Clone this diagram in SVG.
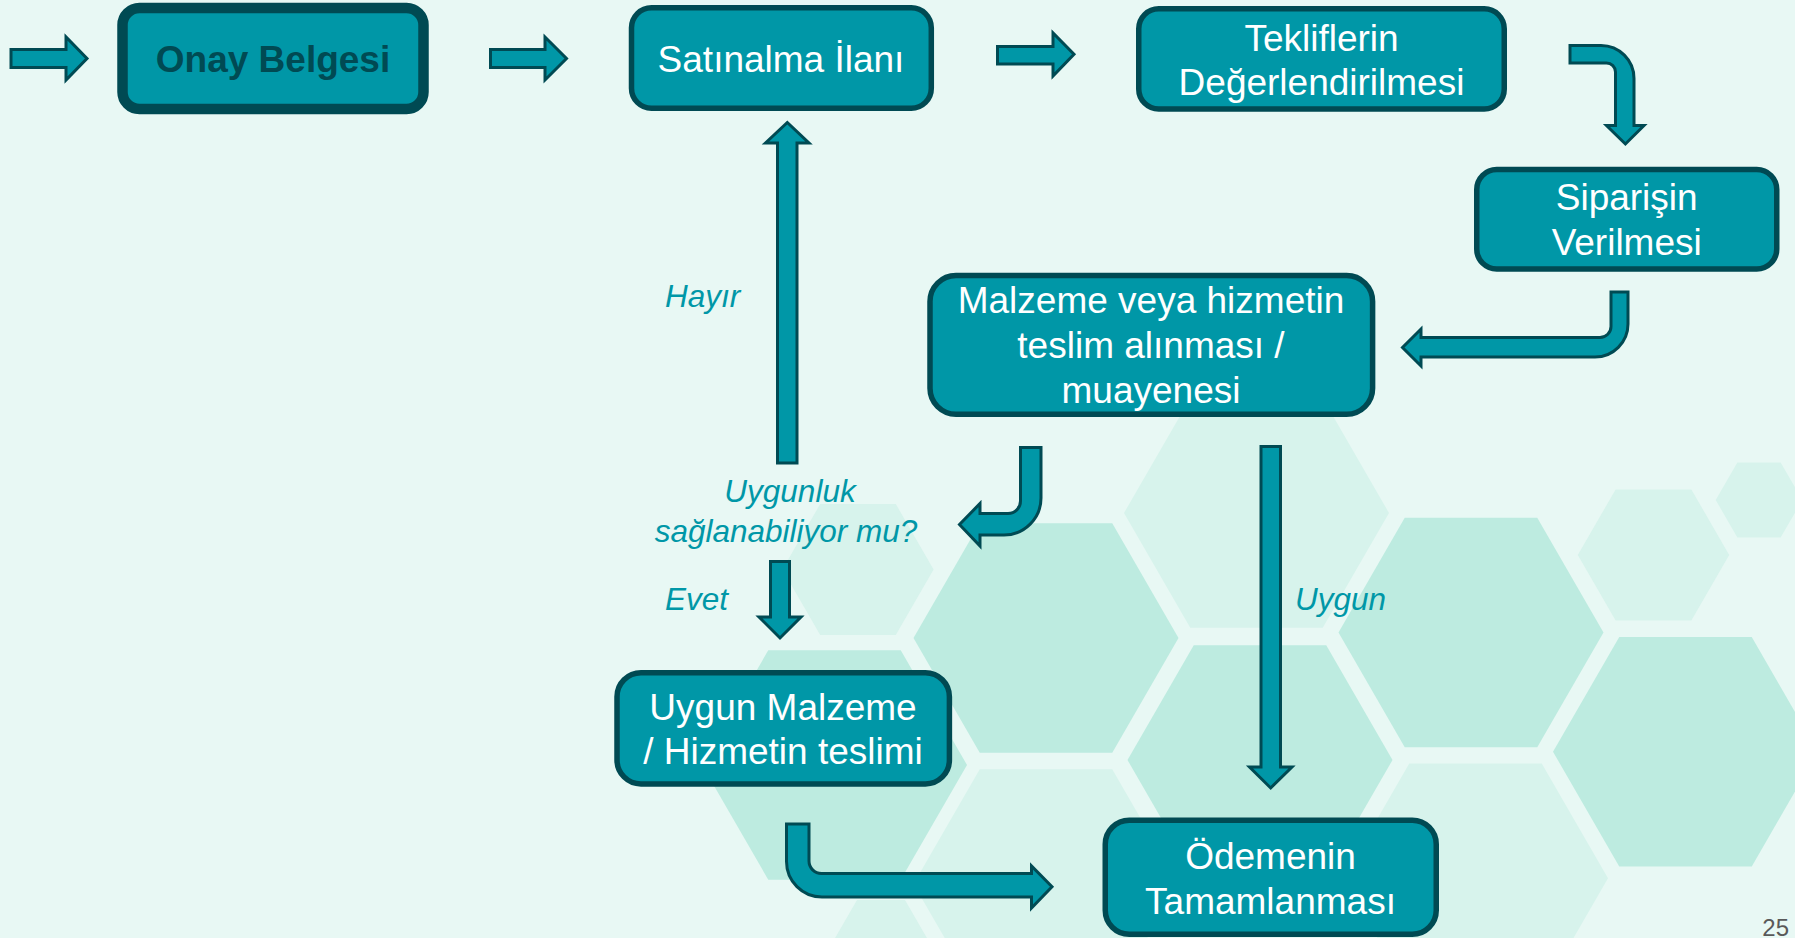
<svg xmlns="http://www.w3.org/2000/svg" width="1795" height="938" viewBox="0 0 1795 938">
<style>
.hl{fill:#D7F3EC}
.hd{fill:#BDEBE0}
.box{fill:#0097A7;stroke:#004A53;stroke-width:5.5}
.arr{fill:#0097A7;stroke:#004A53;stroke-width:3;stroke-linejoin:miter}
.t{font-family:"Liberation Sans",Arial,sans-serif;font-size:37px;fill:#FFFFFF;text-anchor:middle}
.lbl{font-family:"Liberation Sans",Arial,sans-serif;font-size:31.5px;font-style:italic;fill:#0097A7}
</style>
<rect x="0" y="0" width="1795" height="938" fill="#E8F8F4"/>
<g id="background">
<polygon class="hl" points="1124,513 1190.25,398.3 1322.75,398.3 1389,513 1322.75,627.7 1190.25,627.7"/>
<polygon class="hd" points="1338.5,632.5 1404.75,517.8 1537.25,517.8 1603.5,632.5 1537.25,747.2 1404.75,747.2"/>
<polygon class="hd" points="1127.5,760 1193.75,645.3 1326.25,645.3 1392.5,760 1326.25,874.7 1193.75,874.7"/>
<polygon class="hl" points="1343,878.3 1409.25,763.6 1541.75,763.6 1608,878.3 1541.75,993 1409.25,993"/>
<polygon class="hd" points="1553,751.7 1619.25,637 1751.75,637 1818,751.7 1751.75,866.4 1619.25,866.4"/>
<polygon class="hl" points="1577.8,555 1615.65,489.4 1691.35,489.4 1729.2,555 1691.35,620.6 1615.65,620.6"/>
<polygon class="hl" points="1715.7,500 1737.35,462.5 1780.65,462.5 1802.3,500 1780.65,537.5 1737.35,537.5"/>
<polygon class="hd" points="913.5,638 979.75,523.3 1112.25,523.3 1178.5,638 1112.25,752.7 979.75,752.7"/>
<polygon class="hl" points="782.4,569.5 820.2,504 895.8,504 933.6,569.5 895.8,635 820.2,635"/>
<polygon class="hd" points="702,765 768.25,650.3 900.75,650.3 967,765 900.75,879.7 768.25,879.7"/>
<polygon class="hl" points="913.5,884 979.75,769.3 1112.25,769.3 1178.5,884 1112.25,998.7 979.75,998.7"/>
<polygon class="hl" points="833,941.6 857,900 905,900 929,941.6 905,983.2 857,983.2"/>
</g>
<g id="connectors">
<path class="arr" d="M11,49.5 L66,49.5 L66,37 L87,58.5 L66,80 L66,67.5 L11,67.5 Z"/>
<path class="arr" d="M490.5,49.5 L545,49.5 L545,37 L566.5,58.5 L545,80 L545,67.5 L490.5,67.5 Z"/>
<path class="arr" d="M997.5,46.5 L1053,46.5 L1053,33 L1074,54.3 L1053,76 L1053,64 L997.5,64 Z"/>
<path class="arr" d="M1570,45.5 L1601,45.5 A33,33 0 0 1 1634,78.5 L1634,125.5 L1644,125.5 L1625.4,144 L1606.5,125.5 L1615.5,125.5 L1615.5,72 A9,9 0 0 0 1606.5,63 L1570,63 Z"/>
<path class="arr" d="M1611,292 L1628,292 L1628,324 A33,33 0 0 1 1595,357 L1421,357 L1421,366 L1402.5,347.5 L1421,329 L1421,337.5 L1600,337.5 A11,11 0 0 0 1611,326.5 Z"/>
<path class="arr" d="M1020.5,447.5 L1041,447.5 L1041,498 A37,37 0 0 1 1004,535 L980,535 L980,546 L959.5,524.5 L980,503.5 L980,513.5 L1008,513.5 A12.5,12.5 0 0 0 1020.5,501 Z"/>
<path class="arr" d="M777.5,463 L777.5,143 L765.5,143 L787.3,122.5 L809,143 L797,143 L797,463 Z"/>
<path class="arr" d="M770.5,561.5 L789.5,561.5 L789.5,617 L801,617 L780,638 L759,617 L770.5,617 Z"/>
<path class="arr" d="M1261,446.5 L1280.5,446.5 L1280.5,767 L1292,767 L1270.7,788 L1249.5,767 L1261,767 Z"/>
<path class="arr" d="M786.5,824 L809,824 L809,861 A12.5,12.5 0 0 0 821.5,873.5 L1031.5,873.5 L1031.5,866 L1052,886.7 L1031.5,908 L1031.5,897 L822,897 A35.5,35.5 0 0 1 786.5,861.5 Z"/>
<g id="labels">
<text class="lbl" x="665" y="307">Hayır</text>
<text class="lbl" x="790" y="502" text-anchor="middle">Uygunluk</text>
<text class="lbl" x="786" y="542" text-anchor="middle">sağlanabiliyor mu?</text>
<text class="lbl" x="665" y="610">Evet</text>
<text class="lbl" x="1295" y="610">Uygun</text>
</g>
</g>
<g id="onay">
<rect x="122.5" y="8" width="301" height="101" rx="17" fill="#0097A7" stroke="#004A53" stroke-width="10.5"/>
<text x="273" y="72" font-family="'Liberation Sans',Arial,sans-serif" font-size="37" font-weight="bold" fill="#004A53" text-anchor="middle">Onay Belgesi</text>
</g>
<g id="satinalma">
<rect class="box" x="631.5" y="7.75" width="299.8" height="100.5" rx="20"/>
<text class="t" x="781" y="72">Satınalma İlanı</text>
</g>
<g id="teklifler">
<rect class="box" x="1138.75" y="8.75" width="365.5" height="100.2" rx="20"/>
<text class="t" x="1321.5" y="51">Tekliflerin</text>
<text class="t" x="1321.5" y="95">Değerlendirilmesi</text>
</g>
<g id="siparis">
<rect class="box" x="1476.75" y="169.5" width="300" height="99.5" rx="20"/>
<text class="t" x="1626.7" y="210">Siparişin</text>
<text class="t" x="1626.7" y="255">Verilmesi</text>
</g>
<g id="malzeme">
<rect class="box" x="930" y="275.5" width="442.6" height="138.7" rx="26"/>
<text class="t" x="1151" y="313.3">Malzeme veya hizmetin</text>
<text class="t" x="1151" y="358.3">teslim alınması /</text>
<text class="t" x="1151" y="403.3">muayenesi</text>
</g>
<g id="uygun-malzeme">
<rect class="box" x="617" y="672.75" width="332.4" height="111.2" rx="24"/>
<text class="t" x="783" y="720">Uygun Malzeme</text>
<text class="t" x="783" y="764">/ Hizmetin teslimi</text>
</g>
<g id="odeme">
<rect class="box" x="1105.25" y="820.25" width="331" height="114" rx="24"/>
<text class="t" x="1270.5" y="869">Ödemenin</text>
<text class="t" x="1270.5" y="914">Tamamlanması</text>
</g>
<text x="1789" y="936" font-family="'Liberation Sans',Arial,sans-serif" font-size="24" fill="#595959" text-anchor="end">25</text>
</svg>
